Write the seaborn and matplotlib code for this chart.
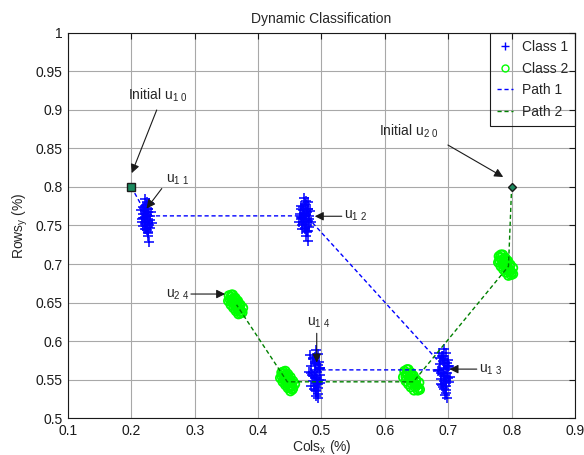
import numpy as np
import pandas as pd
import matplotlib
matplotlib.use("Agg")
import matplotlib.pyplot as plt
import seaborn as sns
from matplotlib.lines import Line2D
from matplotlib.ticker import FormatStrFormatter

# ---- Class 1 samples (four clusters) ----
c1a_x = [0.221, 0.225, 0.223, 0.219, 0.227, 0.222, 0.226, 0.218, 0.224, 0.229, 0.220, 0.223, 0.226,
         0.217, 0.222, 0.228, 0.224, 0.221, 0.225, 0.219, 0.223, 0.227, 0.222, 0.226, 0.228,
         0.216, 0.220, 0.224, 0.228, 0.231, 0.217, 0.221, 0.225, 0.229, 0.232, 0.219, 0.223,
         0.227, 0.230, 0.226]
c1a_y = [0.785, 0.781, 0.777, 0.774, 0.772, 0.769, 0.767, 0.765, 0.763, 0.762, 0.760, 0.758, 0.756,
         0.755, 0.752, 0.750, 0.748, 0.746, 0.744, 0.760, 0.766, 0.771, 0.754, 0.737, 0.729,
         0.770, 0.773, 0.776, 0.779, 0.768, 0.758, 0.761, 0.764, 0.757, 0.753, 0.749, 0.745,
         0.742, 0.747, 0.740]
c1b_x = [0.472, 0.476, 0.474, 0.468, 0.479, 0.471, 0.477, 0.466, 0.473, 0.480, 0.469, 0.475, 0.478,
         0.465, 0.471, 0.476, 0.474, 0.470, 0.477, 0.468, 0.473, 0.479, 0.472, 0.476, 0.478,
         0.467, 0.471, 0.475, 0.479, 0.482, 0.468, 0.472, 0.476, 0.480, 0.483, 0.470, 0.474,
         0.478, 0.481, 0.477]
c1b_y = [0.786, 0.782, 0.778, 0.775, 0.772, 0.770, 0.767, 0.765, 0.763, 0.762, 0.760, 0.758, 0.756,
         0.754, 0.752, 0.750, 0.747, 0.745, 0.743, 0.761, 0.766, 0.771, 0.755, 0.737, 0.730,
         0.771, 0.774, 0.777, 0.780, 0.769, 0.759, 0.762, 0.765, 0.758, 0.754, 0.750, 0.746,
         0.743, 0.748, 0.741]
c1c_x = [0.694, 0.697, 0.692, 0.689, 0.699, 0.695, 0.687, 0.700, 0.693, 0.696, 0.684, 0.698, 0.691,
         0.695, 0.702, 0.688, 0.693, 0.697, 0.690, 0.696, 0.694, 0.699, 0.692, 0.697, 0.698,
         0.686, 0.690, 0.694, 0.698, 0.701, 0.685, 0.689, 0.693, 0.697, 0.701, 0.688, 0.692,
         0.696, 0.700, 0.695]
c1c_y = [0.589, 0.585, 0.581, 0.578, 0.575, 0.572, 0.570, 0.568, 0.565, 0.563, 0.561, 0.559, 0.557,
         0.555, 0.553, 0.551, 0.548, 0.546, 0.543, 0.541, 0.538, 0.566, 0.574, 0.532, 0.526,
         0.584, 0.580, 0.576, 0.571, 0.567, 0.562, 0.558, 0.554, 0.550, 0.547, 0.544, 0.540,
         0.537, 0.552, 0.530]
c1d_x = [0.491, 0.494, 0.489, 0.486, 0.496, 0.492, 0.484, 0.498, 0.490, 0.493, 0.483, 0.497, 0.488,
         0.492, 0.500, 0.487, 0.491, 0.495, 0.489, 0.494, 0.492, 0.496, 0.490, 0.494, 0.495,
         0.482, 0.486, 0.490, 0.494, 0.497, 0.481, 0.485, 0.489, 0.493, 0.497, 0.484, 0.488,
         0.492, 0.496, 0.491]
c1d_y = [0.588, 0.583, 0.579, 0.576, 0.573, 0.570, 0.567, 0.565, 0.562, 0.560, 0.558, 0.556, 0.554,
         0.552, 0.550, 0.548, 0.546, 0.544, 0.541, 0.539, 0.536, 0.563, 0.571, 0.531, 0.526,
         0.582, 0.578, 0.574, 0.569, 0.565, 0.560, 0.556, 0.552, 0.548, 0.545, 0.542, 0.538,
         0.535, 0.550, 0.529]

# ---- Class 2 samples (four clusters) ----
c2a_x = [0.354, 0.357, 0.359, 0.361, 0.363, 0.365, 0.367, 0.369, 0.371, 0.373,
         0.375, 0.356, 0.360, 0.364, 0.368, 0.372, 0.358, 0.362, 0.366, 0.370,
         0.360, 0.364, 0.368, 0.372, 0.376, 0.353, 0.357, 0.361, 0.365, 0.369]
c2a_y = [0.659, 0.657, 0.654, 0.652, 0.650, 0.648, 0.646, 0.643, 0.641, 0.639,
         0.637, 0.653, 0.650, 0.645, 0.641, 0.636, 0.660, 0.656, 0.652, 0.647,
         0.660, 0.656, 0.652, 0.647, 0.643, 0.652, 0.647, 0.643, 0.639, 0.635]
c2b_x = [0.437, 0.439, 0.441, 0.443, 0.445, 0.447, 0.449, 0.451, 0.453, 0.455,
         0.438, 0.442, 0.446, 0.450, 0.454, 0.440, 0.444, 0.448, 0.452, 0.446,
         0.443, 0.447, 0.451, 0.455, 0.458, 0.435, 0.439, 0.443, 0.447, 0.451]
c2b_y = [0.559, 0.557, 0.555, 0.552, 0.550, 0.548, 0.546, 0.543, 0.541, 0.539,
         0.553, 0.549, 0.544, 0.540, 0.537, 0.560, 0.556, 0.552, 0.547, 0.553,
         0.561, 0.557, 0.553, 0.548, 0.544, 0.552, 0.547, 0.543, 0.539, 0.535]
c2c_x = [0.631, 0.634, 0.636, 0.639, 0.641, 0.643, 0.645, 0.648, 0.650, 0.653,
         0.655, 0.633, 0.638, 0.642, 0.647, 0.652, 0.635, 0.640, 0.644, 0.649,
         0.637, 0.641, 0.645, 0.649, 0.654, 0.629, 0.633, 0.637, 0.641, 0.646]
c2c_y = [0.561, 0.558, 0.556, 0.553, 0.551, 0.549, 0.547, 0.544, 0.542, 0.539,
         0.537, 0.554, 0.550, 0.545, 0.541, 0.536, 0.563, 0.558, 0.553, 0.548,
         0.563, 0.559, 0.555, 0.550, 0.546, 0.553, 0.548, 0.544, 0.540, 0.536]
c2d_x = [0.780, 0.782, 0.785, 0.787, 0.789, 0.791, 0.793, 0.795, 0.798, 0.800,
         0.802, 0.781, 0.786, 0.790, 0.794, 0.799, 0.783, 0.788, 0.792, 0.797,
         0.786, 0.790, 0.794, 0.798, 0.802, 0.779, 0.783, 0.787, 0.791, 0.795]
c2d_y = [0.710, 0.708, 0.705, 0.703, 0.701, 0.698, 0.696, 0.694, 0.691, 0.689,
         0.687, 0.704, 0.700, 0.695, 0.691, 0.686, 0.712, 0.707, 0.703, 0.698,
         0.712, 0.708, 0.704, 0.699, 0.695, 0.702, 0.697, 0.693, 0.689, 0.685]

# ---- Paths of the cluster centres ----
path1_x = [0.200, 0.225, 0.476, 0.697, 0.493]
path1_y = [0.800, 0.7625, 0.7625, 0.5625, 0.5625]
path2_x = [0.800, 0.795, 0.645, 0.446, 0.366]
path2_y = [0.800, 0.697, 0.547, 0.547, 0.647]

# ---- Annotations: label, text pos, arrow start, arrow tip ----
ann_labels = [r"Initial u$_{1\ 0}$", r"u$_{1\ 1}$", r"u$_{1\ 2}$", r"u$_{1\ 3}$",
              r"u$_{1\ 4}$", r"Initial u$_{2\ 0}$", r"u$_{2\ 4}$"]
ann_text_xy = [(0.194, 0.919), (0.255, 0.809), (0.536, 0.763), (0.748, 0.563),
               (0.477, 0.624), (0.591, 0.872), (0.255, 0.660)]
ann_from_xy = [(0.240, 0.900), (0.248, 0.798), (0.532, 0.762), (0.745, 0.5635),
               (0.4925, 0.610), (0.6995, 0.8545), (0.294, 0.661)]
ann_tip_xy = [(0.2006, 0.818), (0.224, 0.772), (0.4894, 0.762), (0.702, 0.5635),
              (0.4925, 0.572), (0.7867, 0.813), (0.348, 0.661)]

x_ticks = [0.1, 0.2, 0.3, 0.4, 0.5, 0.6, 0.7, 0.8, 0.9]
y_ticks = [0.5, 0.55, 0.6, 0.65, 0.7, 0.75, 0.8, 0.85, 0.9, 0.95, 1.0]

sns.set_theme(style="white")
plt.rcParams['font.family'] = ['Liberation Sans', 'DejaVu Sans']
plt.rcParams['mathtext.default'] = 'regular'

class1 = pd.DataFrame({"x": c1a_x + c1b_x + c1c_x + c1d_x,
                       "y": c1a_y + c1b_y + c1c_y + c1d_y})
class2 = pd.DataFrame({"x": c2a_x + c2b_x + c2c_x + c2d_x,
                       "y": c2a_y + c2b_y + c2c_y + c2d_y})

fig = plt.figure(figsize=(5.84, 4.55), dpi=100)
ax = fig.add_axes([0.1164, 0.0813, 0.8682, 0.8462])

ax.grid(True, color='#a8a8a8', lw=0.8, ls='-')
ax.set_axisbelow(True)

sns.scatterplot(data=class1, x="x", y="y", marker='+', color='#0000ff',
                s=55, linewidth=1.1, ax=ax, legend=False, zorder=3)
sns.scatterplot(data=class2, x="x", y="y", marker='o', facecolors='none',
                edgecolor='#00ff00', s=40, linewidth=1.3, ax=ax, legend=False, zorder=3)

ax.plot(path1_x, path1_y, ls=(0, (3, 2)), color='#0000ff', lw=1.0, zorder=4)
ax.plot(path2_x, path2_y, ls=(0, (3, 2)), color='#008000', lw=1.0, zorder=4)

# start points
ax.plot(path1_x[0], path1_y[0], marker='s', ms=6, mfc='#1b8a5f', mec='k', mew=1.0, zorder=5)
ax.plot(path2_x[0], path2_y[0], marker='D', ms=4.5, mfc='#1b8a5f', mec='k', mew=1.0, zorder=5)

for lab, txy, fxy, pxy in zip(ann_labels, ann_text_xy, ann_from_xy, ann_tip_xy):
    ax.text(txy[0], txy[1], lab, fontsize=10, ha='left', va='center', zorder=6)
    ax.annotate("", xy=pxy, xytext=fxy,
                arrowprops=dict(arrowstyle='-|>', color='k', lw=0.8,
                                mutation_scale=13, shrinkA=0, shrinkB=0),
                zorder=6)

ax.set_xlim(0.1, 0.9)
ax.set_ylim(0.5, 1.0)
ax.set_xticks(x_ticks)
ax.set_yticks(y_ticks)
ax.xaxis.set_major_formatter(FormatStrFormatter('%g'))
ax.yaxis.set_major_formatter(FormatStrFormatter('%g'))
ax.tick_params(direction='in', length=4, width=0.8, top=True, right=True,
               labelsize=10, colors='k', pad=4)
for sp in ax.spines.values():
    sp.set_color('k')
    sp.set_linewidth(0.8)

ax.set_title("Dynamic Classification", fontsize=10, pad=7)
ax.set_xlabel(r"Cols$_x$ (%)", fontsize=10, labelpad=0)
ax.set_ylabel(r"Rows$_y$ (%)", fontsize=10, labelpad=4)

handles = [
    Line2D([], [], ls='none', marker='+', color='#0000ff', ms=6, mew=1.0),
    Line2D([], [], ls='none', marker='o', mfc='none', mec='#00ff00', ms=5, mew=1.0),
    Line2D([], [], ls=(0, (3, 2)), color='#0000ff', lw=1.0),
    Line2D([], [], ls=(0, (3, 2)), color='#008000', lw=1.0),
]
leg = ax.legend(handles, ["Class 1", "Class 2", "Path 1", "Path 2"],
                loc='upper right', bbox_to_anchor=(1.0, 1.0), borderaxespad=0,
                fontsize=10, frameon=True, fancybox=False, framealpha=1,
                edgecolor='k', handlelength=1.2, handletextpad=0.6,
                labelspacing=0.55, borderpad=0.5)
leg.get_frame().set_linewidth(0.8)
leg.get_frame().set_facecolor('none')

fig.savefig("out.png", dpi=100)
